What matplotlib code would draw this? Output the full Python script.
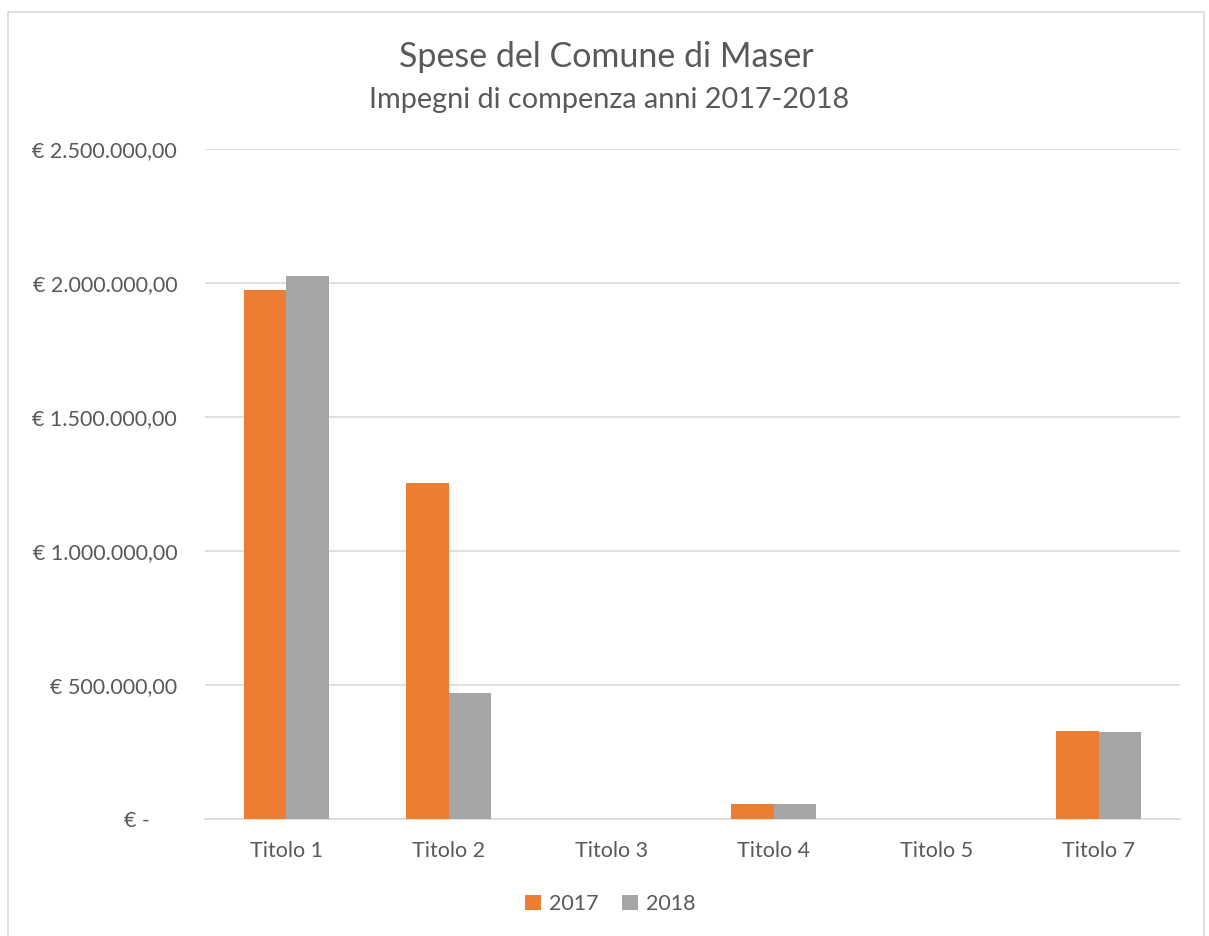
import numpy as np
import matplotlib.pyplot as plt
from matplotlib.patches import Rectangle

# Impegni di competenza per titolo (euro)
categories = ["Titolo 1", "Titolo 2", "Titolo 3", "Titolo 4", "Titolo 5", "Titolo 7"]
spese_2017 = [1974000, 1252000, 0, 55000, 0, 328000]
spese_2018 = [2026000, 470000, 0, 57000, 0, 326000]
years = ["2017", "2018"]
y_ticks = [0, 500000, 1000000, 1500000, 2000000, 2500000]

ORANGE = "#ED7D31"
GRAY = "#A5A5A5"
TEXT = "#595959"
GRID = "#D9D9D9"

plt.rcParams["font.family"] = ["Lato", "DejaVu Sans"]


def euro(v):
    if v == 0:
        return "€ -     "
    s = f"{v:,.2f}".replace(",", "X").replace(".", ",").replace("X", ".")
    return f"€ {s}"


W, H = 1209, 936
fig = plt.figure(figsize=(W / 100, H / 100), dpi=100)
fig.patches.append(Rectangle((8 / W, -10 / H), 1196 / W, (H - 12 + 10) / H,
                             transform=fig.transFigure, fill=False,
                             edgecolor=GRID, linewidth=1.2))

ax = fig.add_axes([205 / W, 1 - 819 / H, 975 / W, 670 / H])
x = np.arange(len(categories))
bw = 0.262
ax.bar(x - bw / 2, spese_2017, bw, color=ORANGE, label=years[0], zorder=3)
ax.bar(x + bw / 2, spese_2018, bw, color=GRAY, label=years[1], zorder=3)

ax.set_xlim(-0.5, len(categories) - 0.5)
ax.set_ylim(0, 2500000)
ax.set_yticks(y_ticks)
ax.set_yticklabels([euro(v) for v in y_ticks])
ax.set_xticks(x)
ax.set_xticklabels(categories)
ax.grid(axis="y", color=GRID, linewidth=1.2, zorder=0)
for s in ["top", "right", "left"]:
    ax.spines[s].set_visible(False)
ax.spines["bottom"].set_color(GRID)
ax.spines["bottom"].set_linewidth(1.2)
ax.tick_params(axis="both", length=0, colors=TEXT)
ax.tick_params(axis="x", pad=16, labelsize=15.5)
ax.tick_params(axis="y", pad=20, labelsize=15.5)

fig.text(606 / W, 1 - 57 / H, "Spese del Comune di Maser", ha="center", va="center",
         fontsize=24.5, color=TEXT)
fig.text(609 / W, 1 - 100 / H, "Impegni di compenza anni 2017-2018", ha="center", va="center",
         fontsize=20.8, color=TEXT)

ax.legend(loc="center", bbox_to_anchor=(610 / W, 1 - 904 / H), bbox_transform=fig.transFigure,
          ncol=2, frameon=False, fontsize=15.5, handlelength=0.75, handleheight=0.75,
          handletextpad=0.35, columnspacing=1.1, labelcolor=TEXT)

fig.savefig("out.png", dpi=100)
